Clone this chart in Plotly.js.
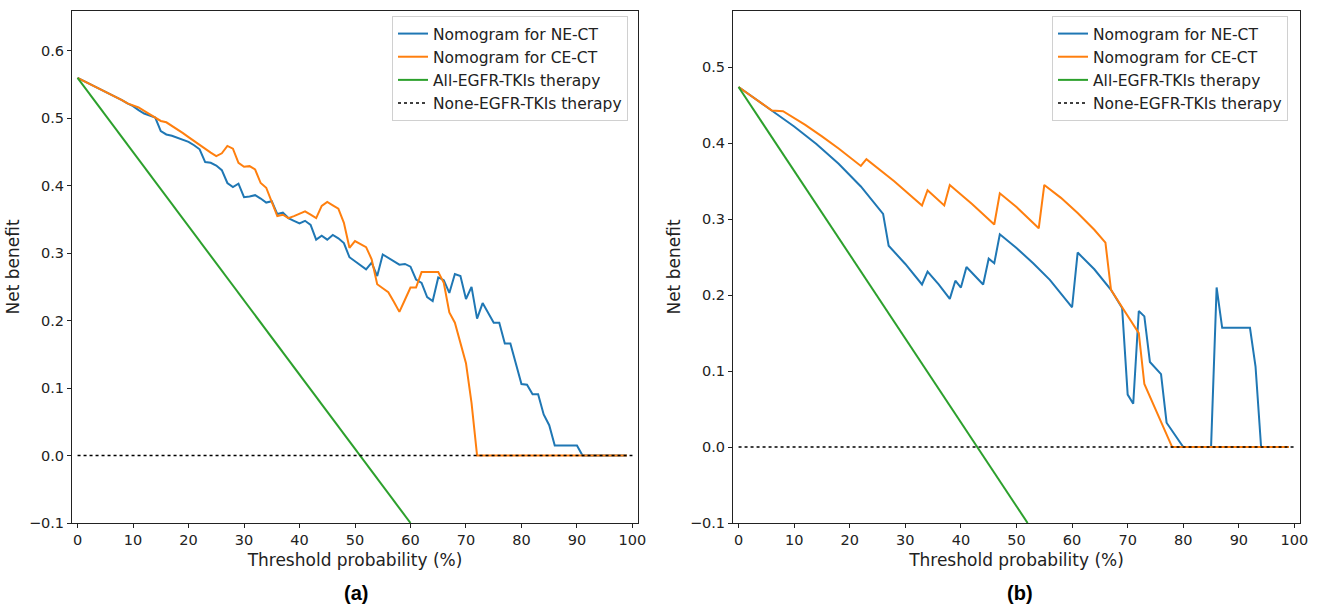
<!DOCTYPE html>
<html>
<head>
<meta charset="utf-8">
<script src="https://cdn.plot.ly/plotly-3.0.1.min.js"></script>
<style>html,body{margin:0;padding:0;background:#fff;}#chart{width:1320px;height:606px;}</style>
</head>
<body>
<div id="chart"></div>
<script>
// ---------- Panel (a) data ----------
const thresholdA = [0,1,2,3,4,5,6,7,8,9,10,11,12,13,14,15,16,17,18,19,20,21,22,23,24,25,26,27,28,29,30,31,32,33,34,35,36,37,38,39,40,41,42,43,44,45,46,47,48,49,50,51,52,53,54,55,56,57,58,59,60,61,62,63,64,65,66,67,68,69,70,71,72,73,74,75,76,77,78,79,80,81,82,83,84,85,86,87,88,89,90,91,92,93,94,95,96,97,98,99];
const necTA = [0.560,0.556,0.552,0.548,0.544,0.540,0.536,0.532,0.527,0.522,
  0.518,0.512,0.507,0.504,0.501,0.481,0.476,0.474,0.471,0.467,
  0.465,0.460,0.454,0.435,0.434,0.430,0.423,0.404,0.398,0.403,
  0.383,0.384,0.386,0.381,0.375,0.377,0.358,0.360,0.352,0.348,
  0.344,0.348,0.342,0.320,0.326,0.320,0.327,0.322,0.315,0.294,
  0.288,0.282,0.276,0.286,0.266,0.298,0.293,0.288,0.283,0.284,
  0.280,0.261,0.256,0.235,0.229,0.264,0.260,0.241,0.269,0.266,
  0.232,0.250,0.203,0.226,0.212,0.197,0.197,0.166,0.166,0.136,
  0.106,0.105,0.091,0.091,0.061,0.045,0.015,0.015,0.015,0.015,
  0.015,0,0,0,0,0,0,0,0,0];
const cectA = [0.560,0.556,0.552,0.548,0.544,0.540,0.536,0.532,0.527,0.522,
  0.519,0.516,0.511,0.506,0.501,0.496,0.494,0.489,0.483,0.478,
  0.472,0.466,0.460,0.454,0.449,0.444,0.448,0.459,0.455,0.434,
  0.428,0.429,0.424,0.404,0.397,0.376,0.355,0.357,0.352,0.355,
  0.358,0.362,0.357,0.352,0.370,0.376,0.371,0.366,0.345,0.308,
  0.318,0.314,0.309,0.291,0.254,0.248,0.242,0.228,0.213,0.231,
  0.249,0.249,0.272,0.272,0.272,0.272,0.256,0.212,0.197,0.167,
  0.137,0.078,0,0,0,0,0,0,0,0,
  0,0,0,0,0,0,0,0,0,0,
  0,0,0,0,0,0,0,0,0,0];
const allXA = [0, 60];
const allYA = [0.56, -0.1];

// ---------- Panel (b) data ----------
const necXB = [0,6,10,14,18,22,26,27,30,33,34,36,38,39,40,41,44,45,46,47,50,53,56,60,61,64,67,69,70,71,72,73,74,76,77,80,85,86,87,92,93,94,99];
const necYB = [0.474,0.443,0.422,0.399,0.373,0.343,0.307,0.265,0.241,0.214,0.231,0.214,0.195,0.219,0.210,0.237,0.214,0.248,0.242,0.280,0.262,0.242,0.220,0.184,0.256,0.234,0.207,0.183,0.069,0.057,0.179,0.172,0.112,0.096,0.032,0.0,0.0,0.210,0.157,0.157,0.106,0.0,0.0];
const cectXB = [0,6,8,12,15,18,22,23,28,33,34,37,38,42,46,47,50,54,55,58,61,64,66,67,69,72,73,78,99];
const cectYB = [0.474,0.443,0.442,0.424,0.409,0.393,0.370,0.379,0.350,0.318,0.338,0.318,0.345,0.320,0.293,0.334,0.316,0.288,0.345,0.328,0.308,0.286,0.269,0.207,0.184,0.150,0.083,0.0,0.0];
const allXB = [0, 52];
const allYB = [0.474, -0.1];

const noneX = [0, 100];
const noneY = [0, 0];

// ---------- labels & ticks ----------
const seriesNames = ['Nomogram for NE-CT','Nomogram for CE-CT','All-EGFR-TKIs therapy','None-EGFR-TKIs therapy'];
const xTicks = [0,10,20,30,40,50,60,70,80,90,100];
const yTicksA = [-0.1,0,0.1,0.2,0.3,0.4,0.5,0.6];
const yTicksB = [-0.1,0,0.1,0.2,0.3,0.4,0.5];
const xTitle = 'Threshold probability (%)';
const yTitle = 'Net benefit';
const panelLabels = ['(a)','(b)'];

const C = {blue:'#1f77b4', orange:'#ff7f0e', green:'#2ca02c', black:'#000000'};

function mk(x, y, name, color, dash, xa, ya, leg) {
  return {x:x, y:y, name:name, type:'scatter', mode:'lines',
    line:{color:color, width:dash==='dot'?1.6:2, dash:dash},
    xaxis:xa, yaxis:ya, legend:leg, hoverinfo:'skip'};
}

const data = [
  mk(thresholdA, necTA, seriesNames[0], C.blue, 'solid', 'x', 'y', 'legend'),
  mk(thresholdA, cectA, seriesNames[1], C.orange, 'solid', 'x', 'y', 'legend'),
  mk(allXA, allYA, seriesNames[2], C.green, 'solid', 'x', 'y', 'legend'),
  mk(noneX, noneY, seriesNames[3], C.black, 'dot', 'x', 'y', 'legend'),
  mk(necXB, necYB, seriesNames[0], C.blue, 'solid', 'x2', 'y2', 'legend2'),
  mk(cectXB, cectYB, seriesNames[1], C.orange, 'solid', 'x2', 'y2', 'legend2'),
  mk(allXB, allYB, seriesNames[2], C.green, 'solid', 'x2', 'y2', 'legend2'),
  mk(noneX, noneY, seriesNames[3], C.black, 'dot', 'x2', 'y2', 'legend2')
];

const W = 1320, H = 606;
const axCommon = {showgrid:false, zeroline:false, showline:true, mirror:true,
  linecolor:'#222', linewidth:1, ticks:'outside', ticklen:4, tickwidth:1, tickcolor:'#222',
  tickfont:{size:14.5, color:'#222'}, automargin:false, fixedrange:true};

function xax(dom, anchor) {
  return Object.assign({}, axCommon, {domain:dom, anchor:anchor, range:[-1,101],
    tickmode:'array', tickvals:xTicks,
    title:{text:xTitle, font:{size:17, color:'#222'}, standoff:6}});
}
function yax(dom, anchor, rng, ticks) {
  return Object.assign({}, axCommon, {domain:dom, anchor:anchor, range:rng,
    tickmode:'array', tickvals:ticks, tickformat:'.1f',
    title:{text:yTitle, font:{size:17, color:'#222'}, standoff:4}});
}
const yDom = [(H-523)/H, (H-11)/H];
const legCommon = {xanchor:'left', yanchor:'top', bordercolor:'#d0d0d0', borderwidth:1,
  bgcolor:'rgba(255,255,255,0.85)', font:{size:15.5, color:'#222'}, tracegroupgap:0};

const layout = {
  width:W, height:H, autosize:false,
  margin:{l:0, r:0, t:0, b:0, pad:0},
  paper_bgcolor:'#ffffff', plot_bgcolor:'#ffffff',
  font:{family:'DejaVu Sans, sans-serif', size:14, color:'#222'},
  showlegend:true,
  xaxis: xax([72/W, 638/W], 'y'),
  yaxis: yax(yDom, 'x', [-0.1, 0.659], yTicksA),
  xaxis2: xax([733/W, 1300/W], 'y2'),
  yaxis2: yax(yDom, 'x2', [-0.1, 0.574], yTicksB),
  legend: Object.assign({}, legCommon, {x:392/W, y:1-16/H}),
  legend2: Object.assign({}, legCommon, {x:1052/W, y:1-16/H}),
  annotations:[
    {text:'<b>'+panelLabels[0]+'</b>', xref:'paper', yref:'paper', x:356/W, y:1-593/H,
     xanchor:'center', yanchor:'middle', showarrow:false,
     font:{family:'Liberation Sans, Arial, sans-serif', size:20, color:'#000'}},
    {text:'<b>'+panelLabels[1]+'</b>', xref:'paper', yref:'paper', x:1020/W, y:1-593/H,
     xanchor:'center', yanchor:'middle', showarrow:false,
     font:{family:'Liberation Sans, Arial, sans-serif', size:20, color:'#000'}}
  ]
};

Plotly.newPlot('chart', data, layout, {displayModeBar:false, staticPlot:true});
</script>
</body>
</html>
